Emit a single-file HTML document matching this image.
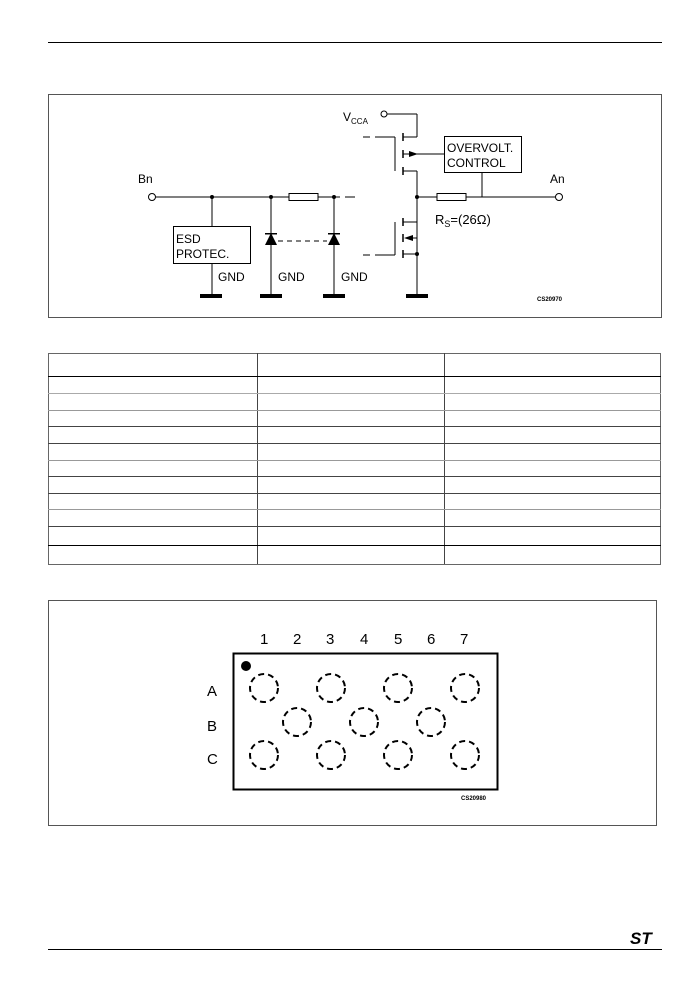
<!DOCTYPE html>
<html><head><meta charset="utf-8"><style>
html,body{margin:0;padding:0;background:#fff;width:699px;height:992px;overflow:hidden}
svg{display:block}
text{font-family:"Liberation Sans","DejaVu Sans",sans-serif;fill:#000}
</style></head><body>
<svg width="699" height="992" viewBox="0 0 699 992" xmlns="http://www.w3.org/2000/svg">
<g stroke="#000" fill="none">
<line x1="48" y1="42.5" x2="662" y2="42.5" stroke-width="1"/>
<line x1="48" y1="949.5" x2="662" y2="949.5" stroke-width="1"/>
<rect x="48.5" y="94.5" width="613" height="223" stroke="#555"/>
<rect x="48.5" y="600.5" width="608" height="225" stroke="#555"/>
</g>
<g stroke="#444" fill="none">
<rect x="48.5" y="353.5" width="612" height="211" stroke="#666"/>
<line x1="257.5" y1="353" x2="257.5" y2="564"/>
<line x1="444.5" y1="353" x2="444.5" y2="564"/>
<line x1="48" y1="376.5" x2="661" y2="376.5" stroke="#000"/>
<line x1="48" y1="393.5" x2="661" y2="393.5" stroke="#aaa"/>
<line x1="48" y1="410.5" x2="661" y2="410.5" stroke="#999"/>
<line x1="48" y1="426.5" x2="661" y2="426.5"/>
<line x1="48" y1="443.5" x2="661" y2="443.5"/>
<line x1="48" y1="460.5" x2="661" y2="460.5" stroke="#999"/>
<line x1="48" y1="476.5" x2="661" y2="476.5"/>
<line x1="48" y1="493.5" x2="661" y2="493.5"/>
<line x1="48" y1="509.5" x2="661" y2="509.5" stroke="#999"/>
<line x1="48" y1="526.5" x2="661" y2="526.5"/>
<line x1="48" y1="545.5" x2="661" y2="545.5" stroke="#000"/>
</g>
<g stroke="#000" fill="none" stroke-width="1">
<circle cx="152" cy="197" r="3.5" fill="#fff"/>
<line x1="156" y1="197" x2="289" y2="197"/>
<rect x="289" y="193.5" width="29" height="7"/>
<line x1="318" y1="197" x2="340" y2="197"/>
<line x1="345" y1="197" x2="355" y2="197"/>
<line x1="212" y1="197" x2="212" y2="226"/>
<rect x="173.5" y="226.5" width="77" height="37"/>
<line x1="212" y1="263" x2="212" y2="296"/>
<line x1="271" y1="197" x2="271" y2="296"/>
<line x1="334" y1="197" x2="334" y2="296"/>
<line x1="278" y1="241" x2="327" y2="241" stroke-dasharray="5,4"/>
<circle cx="559" cy="197" r="3.5" fill="#fff"/>
<line x1="417" y1="197" x2="437" y2="197"/>
<rect x="437" y="193.5" width="29" height="7"/>
<line x1="466" y1="197" x2="555" y2="197"/>
<line x1="482" y1="172" x2="482" y2="197"/>
<rect x="444.5" y="136.5" width="77" height="36"/>
<circle cx="384" cy="114" r="3" fill="#fff"/>
<line x1="387" y1="114" x2="417" y2="114"/>
<line x1="417" y1="114" x2="417" y2="137"/>
<line x1="403" y1="137" x2="417" y2="137"/>
<line x1="403" y1="171" x2="417" y2="171"/>
<line x1="417" y1="171" x2="417" y2="296"/>
<line x1="403" y1="222" x2="417" y2="222"/>
<line x1="403" y1="254" x2="417" y2="254"/>
<line x1="408" y1="238" x2="417" y2="238"/>
<line x1="403" y1="154" x2="444" y2="154"/>
<line x1="395" y1="137" x2="395" y2="171"/>
<line x1="375" y1="137" x2="395" y2="137"/>
<line x1="363" y1="137" x2="370" y2="137"/>
<line x1="395" y1="222" x2="395" y2="255"/>
<line x1="375" y1="255" x2="395" y2="255"/>
<line x1="363" y1="255" x2="370" y2="255"/>
<g stroke-width="1.5">
<line x1="403" y1="133" x2="403" y2="141"/>
<line x1="403" y1="150" x2="403" y2="158"/>
<line x1="403" y1="167" x2="403" y2="175"/>
<line x1="403" y1="218" x2="403" y2="226"/>
<line x1="403" y1="234" x2="403" y2="242"/>
<line x1="403" y1="250" x2="403" y2="258"/>
</g>
</g>
<g fill="#000">
<polygon points="418,154 409,151 409,157"/>
<polygon points="404,238 413,235 413,241"/>
<polygon points="271,233 265,245 277,245"/>
<polygon points="334,233 328,245 340,245"/>
<rect x="265" y="233" width="12" height="1.5"/>
<rect x="328" y="233" width="12" height="1.5"/>
<circle cx="212" cy="197" r="2"/><circle cx="271" cy="197" r="2"/><circle cx="334" cy="197" r="2"/>
<circle cx="417" cy="197" r="2"/><circle cx="417" cy="254" r="2"/>
<rect x="200" y="294" width="22" height="4"/>
<rect x="260" y="294" width="22" height="4"/>
<rect x="323" y="294" width="22" height="4"/>
<rect x="406" y="294" width="22" height="4"/>
</g>
<g font-size="12">
<text x="138" y="183">Bn</text>
<text x="550" y="183">An</text>
<text x="176" y="243">ESD</text>
<text x="176" y="258">PROTEC.</text>
<text x="218" y="281">GND</text>
<text x="278" y="281">GND</text>
<text x="341" y="281">GND</text>
<text x="447" y="152">OVERVOLT.</text>
<text x="447" y="167">CONTROL</text>
<text x="343" y="121">V<tspan font-size="8" dy="3">CCA</tspan></text>
<text x="435" y="224" font-size="13">R<tspan font-size="9" dy="3">S</tspan><tspan dy="-3">=(26Ω)</tspan></text>
</g>
<text x="537" y="301" font-size="6" font-weight="bold">CS20970</text>
<rect x="233.5" y="653.5" width="264" height="136" fill="none" stroke="#000" stroke-width="2"/>
<circle cx="246" cy="666" r="5" fill="#000"/>
<g font-size="15">
<text x="260" y="644">1</text><text x="293" y="644">2</text><text x="326" y="644">3</text><text x="360" y="644">4</text><text x="394" y="644">5</text><text x="427" y="644">6</text><text x="460" y="644">7</text>
<text x="207" y="696">A</text><text x="207" y="731">B</text><text x="207" y="764">C</text>
</g>
<g fill="none" stroke="#000" stroke-width="2" stroke-dasharray="6,4">
<circle cx="264" cy="688" r="14"/><circle cx="331" cy="688" r="14"/><circle cx="398" cy="688" r="14"/><circle cx="465" cy="688" r="14"/>
<circle cx="297" cy="722" r="14"/><circle cx="364" cy="722" r="14"/><circle cx="431" cy="722" r="14"/>
<circle cx="264" cy="755" r="14"/><circle cx="331" cy="755" r="14"/><circle cx="398" cy="755" r="14"/><circle cx="465" cy="755" r="14"/>
</g>
<text x="461" y="800" font-size="6" font-weight="bold">CS20980</text>
<text x="630" y="944" font-size="17" font-weight="bold" font-style="italic">ST</text>
</svg>
</body></html>
